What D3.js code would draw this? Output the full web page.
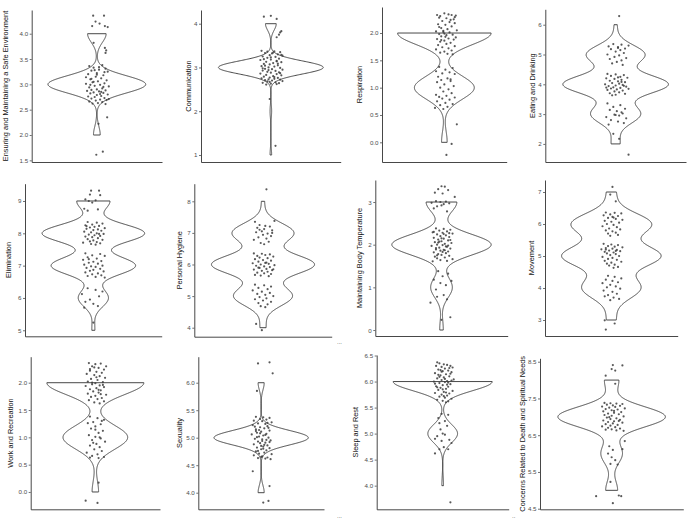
<!DOCTYPE html>
<html>
<head>
<meta charset="utf-8">
<script src="https://cdn.jsdelivr.net/npm/d3@7"></script>
<style>
  body { margin: 0; background: #fff; }
  svg { display: block; }
  text { font-family: "Liberation Sans", Arial, sans-serif; }
</style>
</head>
<body>
<div id="chart"></div>
<script>
// y-axis titles, one per panel
const titles = [
    "Ensuring and Maintaining a Safe Environment", "Communication", "Respiration", "Eating and Drinking",
    "Elimination", "Personal Hygiene", "Maintaining Body Temperature", "Movement",
    "Work and Recreation", "Sexuality", "Sleep and Rest", "Concerns Related to Death and Spiritual Needs"
];

// tick labels per panel
const tickLabels = [
    ["1.5", "2.0", "2.5", "3.0", "3.5", "4.0"],
    ["1", "2", "3", "4"],
    ["0.0", "0.5", "1.0", "1.5", "2.0"],
    ["2", "3", "4", "5", "6"],
    ["5", "6", "7", "8", "9"],
    ["4", "5", "6", "7", "8"],
    ["0", "1", "2", "3"],
    ["3", "4", "5", "6", "7"],
    ["0.0", "0.5", "1.0", "1.5", "2.0"],
    ["4.0", "4.5", "5.0", "5.5", "6.0"],
    ["4.0", "4.5", "5.0", "5.5", "6.0", "6.5"],
    ["4.5", "5.5", "6.5", "7.5", "8.5"]
];

// jittered points [x, score]
const safeEnv = [
    [0.966,4.355],[1.066,4.355],[0.988,4.24],[1.025,4.2],[0.957,4.15],[1.074,4.15],[1.1,4.13],[0.97,3.82],[1.074,3.72],[1.086,3.67],[1.08,3.62],
    [1.095,2.35],[1.015,2.22],[0.995,1.61],[1.055,1.67],
    [0.93,3.36],[1.05,3.38],[0.97,3.33],[1.08,3.31],[1.02,3.29],[0.95,3.27],[1.1,3.25],[1.0,3.22],[0.92,3.2],[1.06,3.18],[0.99,3.15],[1.04,3.12],[0.94,3.1],[1.09,3.08],[1.01,3.06],[0.96,3.04],[1.07,3.02],[0.9,3.01],[1.03,2.99],[0.98,2.97],[1.11,2.96],[0.93,2.94],[1.05,2.92],[1.0,2.9],[0.95,2.89],[1.08,2.88],[0.91,2.87],[1.02,2.86],[0.97,2.84],[1.06,2.83],[0.94,2.82],[1.1,2.8],[1.0,2.79],[1.04,2.77],[0.92,2.76],[0.98,2.75],[1.07,2.73],[0.95,2.72],[1.03,2.7],[1.09,2.69],[0.99,2.68],[0.93,2.66],[1.05,2.65],[1.01,2.63],[0.96,2.62],[1.08,2.61],[1.02,3.34],[0.9,3.14],[1.07,3.24],[0.97,3.05],[1.03,2.81],[0.94,2.99],[1.06,2.95],[1.0,3.19],[1.11,2.71],[0.95,3.11],[1.04,2.85],[0.98,3.28]
];
const communication = [
    [1.04,1.21],[0.99,2.28],
    [0.94,4.16],[1.0,4.18],[1.05,4.11],[1.09,3.83],[1.08,3.8],[1.05,3.69],[1.07,3.75],
    [0.92,3.38],[0.97,3.36],[1.03,3.37],[1.08,3.35],[0.95,3.33],[1.01,3.32],[1.06,3.3],[0.99,3.28],[1.1,3.27],[0.93,3.25],[1.04,3.24],[0.97,3.22],[1.07,3.2],[1.0,3.18],[0.91,3.17],[1.05,3.15],[0.96,3.13],[1.09,3.12],[1.02,3.1],[0.94,3.08],[0.99,3.07],[1.06,3.05],[0.92,3.03],[1.03,3.02],[0.98,3.0],[1.08,2.99],[0.95,2.97],[1.01,2.96],[1.1,2.95],[0.93,2.93],[1.04,2.92],[0.97,2.9],[1.07,2.89],[1.0,2.88],[0.91,2.86],[1.05,2.85],[0.96,2.83],[1.09,2.82],[1.02,2.8],[0.94,2.79],[0.99,2.77],[1.06,2.76],[0.92,2.75],[1.03,2.74],[0.98,2.73],[1.08,2.72],[0.95,2.71],[1.01,2.7],[1.1,2.69],[0.97,2.68],[1.04,2.66],[0.93,2.65],[1.07,2.64],[1.0,2.63],[1.05,2.62],[0.96,2.61],[1.02,3.34],[0.94,3.19],[1.06,3.09],[0.98,2.94],[1.09,3.29],[1.03,2.78],[0.95,3.04],[1.0,3.23],[1.08,2.87],[0.93,2.98],[1.05,3.14],[0.99,2.67]
];
const respiration = [
    [1.07,-0.03],[1.12,0.33],[1.02,-0.23],
    [0.95,1.38],[1.08,1.36],[1.01,1.33],[0.92,1.3],[1.05,1.28],[0.98,1.26],[1.1,1.25],[0.94,1.2],[1.03,1.17],[0.97,1.14],[1.06,1.12],[0.93,1.1],[1.0,1.06],[1.09,1.03],[0.96,1.0],[1.04,0.97],[0.99,0.93],[1.07,0.9],[0.92,0.87],[1.02,0.85],[0.95,0.83],[1.1,0.82],[0.98,0.8],[1.05,0.78],[0.93,0.75],[1.01,0.72],[1.08,0.7],[0.96,0.68],[1.03,0.65],[0.91,0.63],[0.99,0.61],[1.06,1.15],
    [0.93,2.33],[0.96,2.31],[1.0,2.36],[1.04,2.34],[1.07,2.33],[1.11,2.32],[0.95,2.28],[1.02,2.27],[1.09,2.25],[0.98,2.22],[1.05,2.2],[1.1,2.18],[0.94,2.16],[1.01,2.15],[1.07,2.12],[0.97,2.09],[1.03,2.07],[1.12,2.05],[0.92,2.03],[0.99,2.02],[1.05,2.01],[1.0,1.99],[0.95,1.98],[1.08,1.97],[1.02,1.96],[0.97,1.94],[1.11,1.92],[1.04,1.9],[0.93,1.89],[1.09,1.88],[1.0,1.86],[0.96,1.84],[1.06,1.82],[1.02,1.8],[0.94,1.78],[1.1,1.76],[0.98,1.74],[1.04,1.72],[0.92,1.7],[1.07,1.68],[1.0,1.66],[0.96,1.64],[1.03,1.62],[1.08,1.61],[0.99,2.04],[1.06,2.24],[0.95,2.11],[1.01,1.93],[1.1,2.29],[0.97,1.87]
];
const eating = [
    [1.11,1.64],[1.03,2.17],[0.98,2.34],
    [0.93,3.36],[1.04,3.3],[0.98,3.24],[1.08,3.18],[0.95,3.14],[1.01,3.1],[1.06,3.02],[0.99,2.98],[1.03,2.95],[0.92,2.9],[1.09,2.86],[0.96,2.8],[1.02,2.75],[1.07,2.7],[0.94,2.65],[1.0,2.97],[1.05,3.06],
    [0.93,4.35],[1.0,4.33],[1.07,4.31],[0.96,4.28],[1.04,4.25],[1.1,4.22],[0.92,4.2],[0.99,4.18],[1.05,4.15],[0.95,4.12],[1.02,4.1],[1.08,4.07],[0.97,4.04],[1.03,4.02],[0.91,4.0],[1.06,3.98],[1.0,3.96],[0.94,3.94],[1.09,3.92],[0.98,3.9],[1.04,3.88],[0.96,3.86],[1.11,3.85],[1.01,3.83],[0.93,3.81],[1.06,3.79],[0.99,3.76],[1.03,3.73],[0.95,3.7],[1.08,3.68],[1.0,3.65],[0.97,3.63],[1.05,4.08],[0.92,3.89],[1.02,4.23],[1.07,3.95],
    [0.98,5.35],[1.05,5.33],[1.11,5.3],[0.94,5.27],[1.02,5.25],[1.08,5.2],[0.96,5.18],[1.04,5.15],[1.0,5.1],[1.07,5.05],[0.93,5.0],[1.03,4.97],[0.99,4.92],[1.09,4.88],[0.95,4.85],[1.05,4.8],[1.01,4.75],[0.97,4.7],[1.06,4.65],[1.02,5.22],
    [1.03,6.29]
];
const elimination = [
    [1.0,5.24],
    [0.95,6.3],[1.02,6.25],[1.08,6.2],[0.9,6.12],[1.05,6.05],[0.97,5.95],[0.93,5.88],[1.0,5.82],[1.04,5.75],[0.92,5.7],
    [0.93,7.38],[1.06,7.36],[0.99,7.32],[1.1,7.3],[0.95,7.26],[1.03,7.22],[0.91,7.18],[1.07,7.14],[1.0,7.12],[0.96,7.09],[1.04,7.06],[0.92,7.03],[1.08,7.0],[0.98,6.98],[1.02,6.96],[0.94,6.93],[1.06,6.9],[1.0,6.87],[0.97,6.84],[1.09,6.82],[0.93,6.79],[1.04,6.76],[0.99,6.73],[1.07,6.7],[0.95,6.68],[1.02,6.65],[1.1,6.63],[0.96,7.2],
    [0.95,8.35],[1.03,8.33],[1.08,8.3],[0.99,8.27],[0.93,8.25],[1.05,8.23],[1.01,8.2],[0.97,8.18],[1.1,8.16],[0.94,8.14],[1.04,8.12],[1.0,8.1],[1.07,8.08],[0.92,8.05],[0.98,8.03],[1.03,8.0],[1.09,7.98],[0.96,7.96],[1.01,7.94],[1.06,7.92],[0.93,7.9],[0.99,7.88],[1.04,7.85],[0.95,7.82],[1.08,7.8],[1.0,7.78],[0.97,7.75],[1.03,7.73],[0.91,7.71],[1.06,7.69],[0.98,7.67],[1.02,7.65],[1.05,7.98],[0.94,8.22],
    [0.98,9.32],[1.05,9.32],[0.97,9.2],[1.06,9.18],[0.93,9.05],[0.96,9.0],[1.02,9.02],[0.99,8.95],[0.92,8.76],[1.04,8.74],[0.95,8.7]
];
const hygiene = [
    [0.94,4.12],[0.99,3.92],
    [0.93,5.36],[1.01,5.34],[1.07,5.3],[0.96,5.26],[1.04,5.22],[0.91,5.18],[0.99,5.14],[1.06,5.1],[0.95,5.07],[1.02,5.04],[1.09,5.0],[0.97,4.97],[1.03,4.93],[0.93,4.9],[1.0,4.86],[1.07,4.82],[0.96,4.78],[1.04,4.74],[0.98,4.68],[1.02,4.65],
    [0.92,6.35],[0.99,6.34],[1.06,6.32],[1.02,6.3],[0.95,6.27],[1.09,6.25],[0.97,6.22],[1.04,6.2],[0.93,6.17],[1.0,6.14],[1.07,6.12],[0.96,6.09],[1.03,6.06],[0.91,6.04],[1.05,6.02],[0.98,6.0],[1.1,5.98],[0.94,5.96],[1.01,5.94],[1.06,5.92],[0.97,5.89],[1.03,5.86],[0.92,5.84],[1.08,5.82],[0.99,5.8],[1.04,5.77],[0.95,5.74],[1.01,5.72],[1.07,5.7],[0.93,5.67],[0.98,5.65],[1.05,5.63],[1.02,6.05],[0.96,5.9],[1.09,5.85],
    [0.93,7.35],[1.1,7.38],[0.97,7.25],[1.02,7.22],[1.06,7.2],[0.95,7.16],[1.01,7.12],[1.08,7.08],[0.99,7.05],[0.94,7.02],[1.04,6.98],[1.0,6.94],[1.07,6.9],[0.96,6.86],[1.03,6.82],[0.92,6.78],[1.05,6.72],[0.98,6.68],[1.01,6.64],[1.08,7.0],[0.97,7.1],
    [1.03,8.38]
];
const temperature = [
    [1.0,0.24],[1.08,0.3],
    [0.97,1.38],[1.06,1.32],[1.01,1.26],[0.93,1.18],[1.09,1.15],[0.99,1.1],[1.04,1.05],[0.95,0.95],[1.02,0.82],[0.96,0.78],[1.05,0.72],[0.9,0.64],
    [0.95,2.38],[1.02,2.37],[1.08,2.35],[0.98,2.33],[1.05,2.31],[0.92,2.29],[1.01,2.28],[1.1,2.26],[0.96,2.24],[1.04,2.22],[0.99,2.2],[1.07,2.18],[0.93,2.16],[1.02,2.14],[0.97,2.12],[1.06,2.1],[1.0,2.08],[0.94,2.06],[1.09,2.04],[1.03,2.02],[0.96,2.0],[1.01,1.99],[0.91,1.97],[1.05,1.95],[0.98,1.93],[1.08,1.91],[0.95,1.89],[1.02,1.88],[0.99,1.86],[1.06,1.84],[0.93,1.82],[1.04,1.8],[0.97,1.78],[1.0,1.76],[1.07,1.74],[0.94,1.72],[1.03,1.7],[0.96,1.68],[1.1,1.66],[0.99,1.64],[1.05,1.62],[0.92,1.61],[1.02,2.25],[0.97,2.05],[1.06,1.98],[1.0,2.15],[0.95,1.92],[1.08,2.11],[1.01,1.83],[0.93,2.3],[1.04,1.96],[0.98,2.07],[1.07,2.27],[0.96,1.75],[1.03,1.87],
    [1.0,3.37],[1.03,3.36],[0.97,3.3],[1.06,3.28],[0.94,3.22],[1.01,3.2],[1.12,3.12],[0.95,3.02],[0.99,3.0],[1.04,3.01],[0.91,2.98],[1.07,2.97],[1.02,2.95],[0.96,2.9],[0.93,2.85],[1.05,2.78],[1.0,2.92]
];
const movement = [
    [0.94,2.99],[1.03,2.89],[0.95,2.7],
    [0.97,4.38],[1.03,4.35],[1.09,4.3],[0.95,4.26],[1.01,4.22],[1.06,4.18],[0.92,4.15],[0.99,4.1],[1.04,4.05],[0.96,4.02],[1.08,3.98],[0.93,3.92],[1.01,3.88],[1.05,3.82],[0.97,3.78],[0.94,3.74],[1.02,3.7],[1.07,3.66],[0.99,3.62],
    [0.93,5.38],[1.0,5.36],[1.06,5.34],[0.97,5.31],[1.03,5.29],[1.1,5.27],[0.95,5.25],[1.01,5.23],[0.91,5.21],[1.05,5.19],[0.98,5.17],[1.08,5.15],[0.94,5.13],[1.02,5.11],[0.96,5.08],[1.04,5.06],[0.99,5.03],[1.07,5.0],[0.92,4.97],[1.01,4.94],[0.97,4.91],[1.05,4.88],[0.94,4.85],[1.09,4.82],[1.0,4.79],[0.96,4.76],[1.03,4.73],[0.98,4.7],[1.06,4.66],[1.02,4.63],[0.95,5.2],[1.04,5.16],
    [0.95,6.36],[1.03,6.35],[1.09,6.33],[0.99,6.3],[0.93,6.27],[1.06,6.25],[1.01,6.22],[0.97,6.19],[1.04,6.16],[1.1,6.13],[0.94,6.1],[1.0,6.07],[1.07,6.04],[0.96,6.0],[1.02,5.97],[0.92,5.93],[1.05,5.9],[0.98,5.86],[1.08,5.83],[0.95,5.8],[1.01,5.77],[1.04,5.73],[0.97,5.7],[1.06,5.66],[0.99,5.63],[1.02,6.2],
    [1.01,7.16],[0.99,6.92],[1.04,6.71]
];
const work = [
    [1.03,0.17],[0.91,-0.16],[1.02,-0.2],
    [0.95,1.38],[1.02,1.35],[1.08,1.32],[0.98,1.28],[0.93,1.26],[1.05,1.24],[1.0,1.2],[0.96,1.16],[1.07,1.12],[1.03,1.08],[0.94,1.04],[1.0,1.01],[1.05,0.98],[0.97,0.95],[1.09,0.92],[1.01,0.88],[0.95,0.85],[1.04,0.82],[0.99,0.78],[1.06,0.75],[0.92,0.72],[1.02,0.69],[0.97,0.66],[1.08,0.64],[1.03,0.62],[0.95,0.63],[1.0,1.14],[1.06,1.3],[0.98,0.9],[1.04,1.0],
    [0.94,2.36],[1.0,2.34],[1.05,2.35],[1.1,2.3],[0.97,2.3],[1.03,2.27],[1.08,2.24],[0.95,2.22],[1.01,2.2],[1.06,2.18],[0.92,2.16],[0.99,2.14],[1.04,2.12],[1.09,2.09],[0.96,2.07],[1.02,2.05],[0.93,2.02],[1.07,2.01],[1.0,1.99],[0.97,1.97],[1.04,1.95],[0.91,1.94],[1.08,1.92],[1.01,1.9],[0.95,1.88],[1.05,1.86],[0.98,1.84],[1.03,1.82],[0.93,1.8],[1.1,1.78],[1.0,1.76],[0.96,1.74],[1.06,1.72],[1.02,1.7],[0.94,1.68],[1.08,1.66],[0.99,1.64],[1.04,1.62],[0.97,2.0],[1.01,2.1],[1.07,1.96],[0.95,2.25],[1.03,1.87],[0.99,2.28],[1.05,1.79]
];
const sexuality = [
    [0.92,4.39],[1.08,4.12],[1.07,3.85],[1.02,3.82],
    [0.97,6.35],[1.08,6.37],[1.11,6.17],[0.96,5.85],
    [0.95,5.38],[1.02,5.37],[1.08,5.36],[0.99,5.34],[1.05,5.33],[0.93,5.31],[1.01,5.3],[1.1,5.28],[0.97,5.26],[1.04,5.25],[0.92,5.23],[1.06,5.21],[0.99,5.19],[1.03,5.17],[0.95,5.15],[1.08,5.13],[1.0,5.11],[0.96,5.09],[1.05,5.07],[0.91,5.06],[1.02,5.04],[0.98,5.02],[1.07,5.0],[0.94,4.98],[1.01,4.97],[1.09,4.95],[0.97,4.93],[1.04,4.91],[0.99,4.9],[0.93,4.88],[1.06,4.86],[1.02,4.84],[0.96,4.82],[1.08,4.81],[1.0,4.79],[1.05,4.77],[0.95,4.75],[1.03,4.73],[0.98,4.71],[1.1,4.7],[0.93,4.68],[1.01,4.66],[1.06,4.64],[0.97,4.63],[1.04,4.62],[1.09,4.61],[1.0,4.65],[0.99,5.08],[1.05,4.96],[0.94,5.2],[1.03,4.87],[1.07,5.18],[0.96,5.01],[1.02,4.8],[1.08,4.92],[0.95,5.12],[1.0,4.85],[1.04,5.05],[0.97,4.76],[1.06,5.27],[1.01,4.94],[0.98,5.14]
];
const sleep = [
    [1.07,3.68],
    [0.99,5.38],[1.05,5.36],[0.96,5.3],[1.02,5.24],[0.97,5.2],[1.04,5.15],[0.98,5.08],[1.0,5.0],[1.02,4.98],[0.95,4.95],[0.93,4.9],[1.06,4.88],[0.99,4.86],[1.08,4.82],[1.01,4.74],[0.97,4.7],[1.05,4.7],[0.93,4.62],
    [0.95,6.37],[0.97,6.35],[1.01,6.33],[1.04,6.32],[1.07,6.3],[0.94,6.3],[0.99,6.28],[1.09,6.27],[1.02,6.25],[0.96,6.23],[1.05,6.21],[1.0,6.2],[1.08,6.18],[0.93,6.16],[1.03,6.14],[0.98,6.12],[1.06,6.1],[1.01,6.08],[0.95,6.06],[1.1,6.04],[0.99,6.03],[1.04,6.01],[0.92,6.0],[1.02,5.99],[0.97,5.97],[1.07,5.95],[1.0,5.93],[0.94,5.91],[1.05,5.9],[0.98,5.88],[1.03,5.86],[0.96,5.84],[1.09,5.82],[1.01,5.8],[0.93,5.78],[1.06,5.77],[0.99,5.75],[1.04,5.73],[0.97,5.71],[1.02,5.69],[1.08,5.67],[0.95,5.65],[1.0,5.63],[1.05,5.62],[1.03,5.6],[0.98,6.22],[1.06,6.26],[0.96,6.13],[1.02,6.05],[0.93,5.96],[1.07,6.15],[1.0,5.85],[1.04,5.94],[0.97,6.09],[1.01,5.72],[0.95,5.89],[1.08,6.02],[0.99,6.19],[1.03,5.79],[1.05,5.98]
];
const concerns = [
    [0.99,5.23],[0.87,4.84],[1.06,4.86],[1.08,4.84],[1.01,4.65],
    [1.11,6.34],[1.09,6.12],[0.98,6.2],[1.01,6.1],[0.97,6.0],[1.0,5.9],[1.03,5.82],[0.99,5.72],[1.05,5.7],
    [0.94,7.38],[0.99,7.37],[1.04,7.36],[1.09,7.35],[0.96,7.33],[1.01,7.31],[1.07,7.3],[0.92,7.28],[1.03,7.27],[0.98,7.25],[1.11,7.23],[0.95,7.21],[1.05,7.2],[1.0,7.18],[0.93,7.15],[1.08,7.13],[1.02,7.11],[0.97,7.09],[1.06,7.07],[0.94,7.05],[1.0,7.03],[1.1,7.01],[0.96,6.98],[1.04,6.96],[0.99,6.94],[1.07,6.92],[0.93,6.9],[1.02,6.88],[0.97,6.86],[1.09,6.84],[1.01,6.82],[0.95,6.8],[1.05,6.78],[0.99,6.76],[0.92,6.74],[1.03,6.72],[0.97,6.7],[1.07,6.68],[1.0,6.66],[0.95,6.65],[1.04,6.63],[1.1,6.62],[1.02,7.16],[0.98,6.99],[1.06,6.89],
    [1.01,8.41],[1.09,8.4],[1.0,8.3],[1.03,8.26],[0.95,8.12],[1.03,7.9]
];

const panelPoints = [safeEnv, communication, respiration, eating, elimination, hygiene,
    temperature, movement, work, sexuality, sleep, concerns];

// panel frames in pixels (left, right, top, bottom), y domain, title x
const frames = [
    { l: 31.7, r: 162, t: 10, b: 162, lo: 1.467, hi: 4.468, tx: 5 },
    { l: 201, r: 340.7, t: 10, b: 162, lo: 0.84, hi: 4.313, tx: 188.5 },
    { l: 382, r: 506.7, t: 7, b: 162, lo: -0.36, hi: 2.476, tx: 359.5 },
    { l: 545.3, r: 686, t: 9.3, b: 162, lo: 1.393, hi: 6.517, tx: 532.5 },
    { l: 25, r: 161.7, t: 183.7, b: 336.3, lo: 4.814, hi: 9.535, tx: 8.5 },
    { l: 194.3, r: 331.7, t: 183.7, b: 336.7, lo: 3.715, hi: 8.557, tx: 179.5 },
    { l: 375.3, r: 507.7, t: 180, b: 336, lo: -0.14, hi: 3.516, tx: 359.5 },
    { l: 545, r: 677.7, t: 180, b: 336, lo: 2.5, hi: 7.375, tx: 531 },
    { l: 30.7, r: 160, t: 356.7, b: 509.3, lo: -0.317, hi: 2.476, tx: 10 },
    { l: 198.3, r: 324, t: 356.7, b: 509.3, lo: 3.698, hi: 6.473, tx: 179 },
    { l: 376.7, r: 508.7, t: 355, b: 509.3, lo: 3.546, hi: 6.51, tx: 355.3 },
    { l: 540, r: 683.3, t: 358.3, b: 509.3, lo: 4.484, hi: 8.593, tx: 522 }
];

const width = 692;
const height = 521;

const svg = d3.select("#chart")
    .append("svg")
    .attr("width", width)
    .attr("height", height);

// bandwidth like R's bw.nrd0
function bwNrd0(x) {
    const s = x.slice().sort(d3.ascending);
    const hi = d3.deviation(s);
    const iqr = d3.quantileSorted(s, 0.75) - d3.quantileSorted(s, 0.25);
    let lo = Math.min(hi, iqr / 1.34);
    if (!lo) lo = hi || Math.abs(s[0]) || 1;
    return 0.9 * lo * Math.pow(s.length, -0.2);
}

// gaussian kernel density over the trimmed data range
function density(values, n) {
    const bw = bwNrd0(values);
    const [lo, hi] = d3.extent(values);
    const k = u => Math.exp(-0.5 * u * u) / Math.sqrt(2 * Math.PI);
    return d3.range(n).map(i => {
        const y = lo + (hi - lo) * i / (n - 1);
        return [y, d3.sum(values, v => k((y - v) / bw)) / (values.length * bw)];
    });
}

panelPoints.forEach((pts, i) => {
    const f = frames[i];
    const g = svg.append("g");

    const x = d3.scaleLinear().domain([0.4, 1.6]).range([f.l, f.r]);
    const y = d3.scaleLinear().domain([f.lo, f.hi]).range([f.b, f.t]);

    // violin from the raw (un-jittered) scores
    const scores = pts.map(p => Math.round(p[1]));
    const dens = density(scores, 512);
    const maxD = d3.max(dens, d => d[1]);
    const outline = dens.map(d => [1 - 0.45 * d[1] / maxD, d[0]])
        .concat(dens.slice().reverse().map(d => [1 + 0.45 * d[1] / maxD, d[0]]));

    g.append("path")
        .attr("d", d3.line().x(d => x(d[0])).y(d => y(d[1]))(outline) + "Z")
        .attr("fill", "#fff")
        .attr("stroke", "#333")
        .attr("stroke-width", 0.9);

    g.selectAll("circle")
        .data(pts)
        .enter().append("circle")
        .attr("cx", d => x(d[0]))
        .attr("cy", d => y(d[1]))
        .attr("r", 1.1)
        .attr("fill", "#3c3c3c")
        .attr("fill-opacity", 0.85);

    // axes
    const labels = tickLabels[i];
    const yAxis = d3.axisLeft(y)
        .tickValues(labels.map(Number))
        .tickFormat((d, j) => labels[j])
        .tickSize(2)
        .tickSizeOuter(0)
        .tickPadding(1.5);

    const ya = g.append("g")
        .attr("transform", `translate(${f.l},0)`)
        .call(yAxis);
    ya.select(".domain").attr("stroke", "#333").attr("stroke-width", 0.9);
    ya.selectAll(".tick line").attr("stroke", "#333").attr("stroke-width", 0.7);
    ya.selectAll(".tick text")
        .attr("fill", "#4d4d4d")
        .style("font-size", "6.2px");

    const xa = g.append("g")
        .attr("transform", `translate(0,${f.b})`)
        .call(d3.axisBottom(x).tickValues([]).tickSizeOuter(0));
    xa.select(".domain").attr("stroke", "#333").attr("stroke-width", 0.9);

    g.append("text")
        .attr("transform", `translate(${f.tx},${(f.t + f.b) / 2}) rotate(-90)`)
        .attr("dy", "0.35em")
        .attr("text-anchor", "middle")
        .attr("fill", "#111")
        .style("font-size", "7.4px")
        .text(titles[i]);
});

// small stray marks in the original montage
const strays = [[337, 344, "..."], [337, 518, "..."], [512, 518, ".."]];
svg.selectAll(".stray")
    .data(strays)
    .enter().append("text")
    .attr("class", "stray")
    .attr("x", d => d[0])
    .attr("y", d => d[1])
    .attr("fill", "#444")
    .style("font-size", "6px")
    .text(d => d[2]);
</script>
</body>
</html>
